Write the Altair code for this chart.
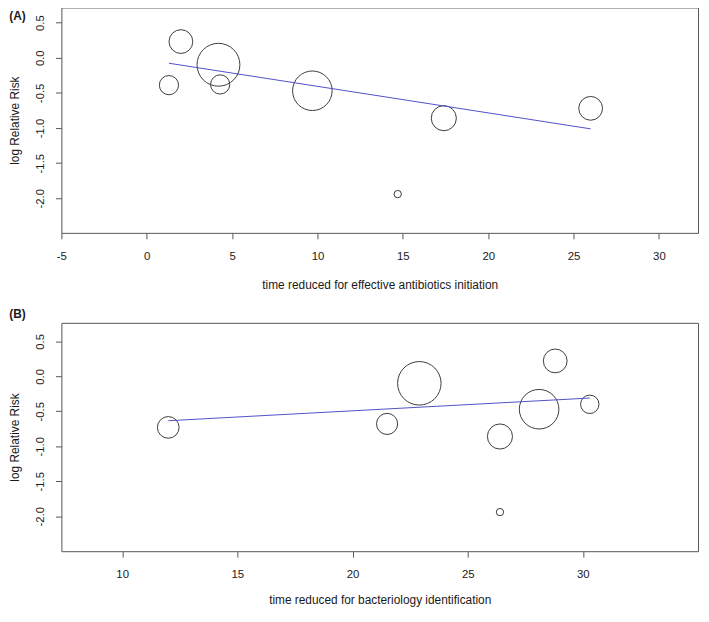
import altair as alt
import pandas as pd

FONT = "Liberation Sans"
GRAY = "#555555"
TXT = "#1a1a1a"
CIRC = "#3c3c3c"
BLUE = "#5050c8"

# ---- data ----
panel_labels = ["(A)", "(B)"]
y_title = "log Relative Risk"
x_titles = ["time reduced for effective antibiotics initiation",
            "time reduced for bacteriology identification"]

# Panel A
a_time = [2.0, 4.2, 1.3, 4.3, 9.7, 17.4, 14.7, 26.0]
a_logrr = [0.23, -0.10, -0.39, -0.38, -0.47, -0.86, -1.94, -0.72]
a_weight = [9.5, 30.9, 6.2, 6.2, 26.3, 10.6, 0.9, 9.5]
a_fit = [-0.029, -0.0378]   # intercept, slope of the meta-regression line

# Panel B
b_time = [12.0, 22.9, 21.5, 28.8, 28.1, 30.3, 26.4, 26.4]
b_logrr = [-0.73, -0.10, -0.68, 0.22, -0.47, -0.40, -0.86, -1.94]
b_weight = [7.9, 31.8, 7.5, 9.5, 26.3, 5.7, 10.6, 0.9]
b_fit = [-0.847, 0.0177]

a_xticks = [-5, 0, 5, 10, 15, 20, 25, 30]
b_xticks = [10, 15, 20, 25, 30]
y_ticks = [-2.0, -1.5, -1.0, -0.5, 0.0, 0.5]

W = 644


def panel(times, logrr, weights, fit, label, xtitle, xticks, xdom, ydom, h, label_y, title_y):
    df = pd.DataFrame({"x": times, "y": logrr, "w": weights})
    x0, x1 = min(times), max(times)
    line_df = pd.DataFrame({"x": [x0, x1],
                            "y": [fit[0] + fit[1] * x0, fit[0] + fit[1] * x1]})
    xaxis = alt.Axis(values=xticks, tickSize=6, tickColor=GRAY, domain=False, grid=False,
                     labelPadding=11.5, labelFlush=False, labelOverlap=False,
                     labelExpr="replace(format(datum.value, 'd'), '\u2212', '-')",
                     labelFont=FONT, labelFontSize=11.5, labelColor=TXT,
                     titleFont=FONT, titleFontSize=12, titleFontWeight="normal",
                     titleColor=TXT, titleX=W / 2, titleY=title_y,
                     titleBaseline="alphabetic", titleAlign="center")
    yaxis = alt.Axis(values=y_ticks, tickSize=6, tickColor=GRAY, domain=False, grid=False,
                     labelAngle=-90, labelAlign="center", labelBaseline="alphabetic",
                     labelPadding=12, labelFlush=False, labelOverlap=False,
                     labelExpr="replace(format(datum.value, '.1f'), '\u2212', '-')",
                     labelFont=FONT, labelFontSize=11.5, labelColor=TXT,
                     titleFont=FONT, titleFontSize=12, titleFontWeight="normal",
                     titleColor=TXT, titleAngle=-90, titleX=-43.2, titleY=h / 2,
                     titleBaseline="alphabetic", titleAlign="center")
    xenc = alt.X("x:Q", title=xtitle, axis=xaxis,
                 scale=alt.Scale(domain=xdom, nice=False, zero=False))
    yenc = alt.Y("y:Q", title=y_title, axis=yaxis,
                 scale=alt.Scale(domain=ydom, nice=False, zero=False))
    pts = alt.Chart(df).mark_point(shape="circle", filled=False, color=CIRC,
                                   strokeWidth=1, opacity=1).encode(
        x=xenc, y=yenc,
        size=alt.Size("w:Q", legend=None,
                      scale=alt.Scale(type="linear", domain=[0, 100], range=[0, 6088], zero=True)))
    ln = alt.Chart(line_df).mark_line(color=BLUE, strokeWidth=1).encode(x=xenc, y=yenc)
    lab = alt.Chart(pd.DataFrame({"t": [label]})).mark_text(
        align="left", baseline="middle", fontWeight="bold", fontSize=12,
        font=FONT, color=TXT).encode(text="t:N", x=alt.value(-52.7), y=alt.value(label_y))
    return alt.layer(pts, ln, lab).properties(width=W, height=h)


A = panel(a_time, a_logrr, a_weight, a_fit, panel_labels[0], x_titles[0], a_xticks,
          [-5, 32.29], [-2.492, 0.715], 228, 8.5, 56)
B = panel(b_time, b_logrr, b_weight, b_fit, panel_labels[1], x_titles[1], b_xticks,
          [7.36, 35.0], [-2.499, 0.764], 231, -8.4, 53)

chart = alt.vconcat(A, B, spacing=91, bounds="flush").configure_view(
    stroke=GRAY, strokeWidth=1, fill="white").properties(
    padding={"left": 0, "top": -5, "right": 2, "bottom": 0}, background="white")

chart.save("out.html", embed_options={"renderer": "svg", "actions": False})
